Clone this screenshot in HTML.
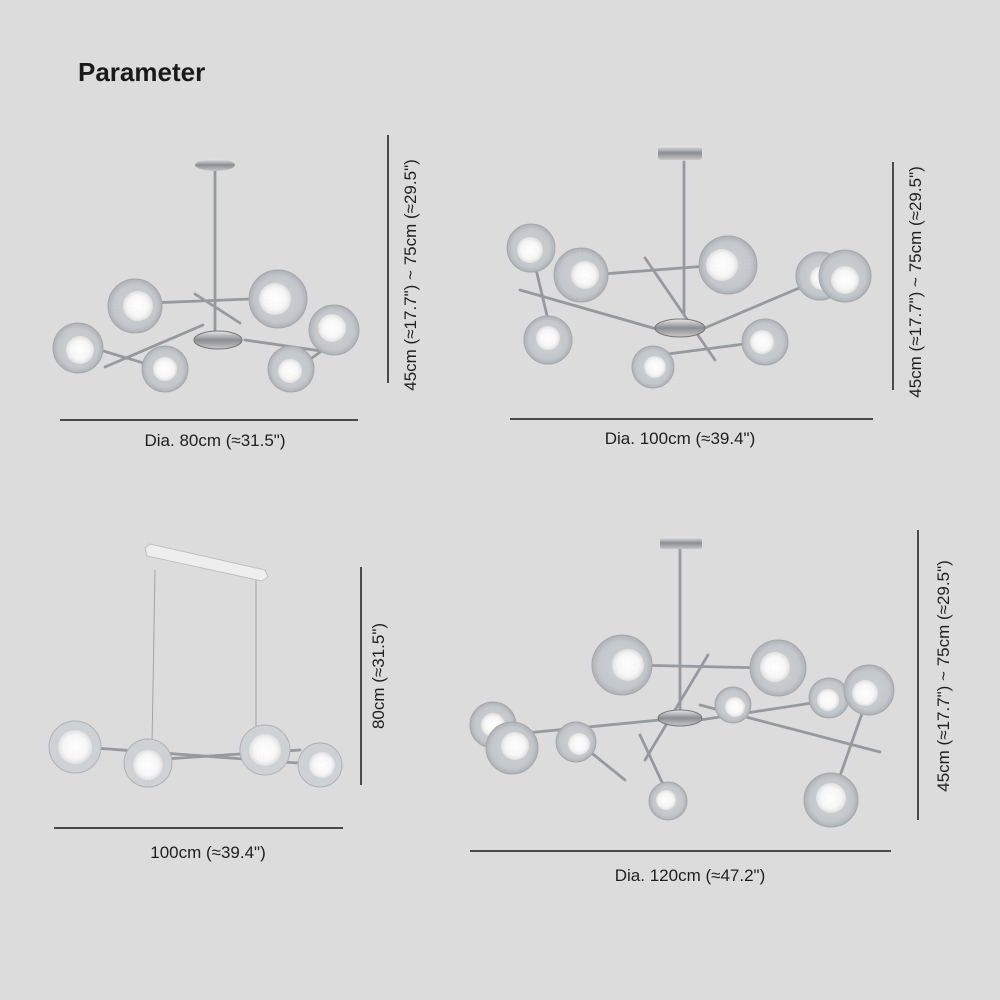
<!DOCTYPE html>
<html><head><meta charset="utf-8"><style>
html,body{margin:0;padding:0;background:#dcdcdc;}
svg{display:block;font-family:"Liberation Sans",sans-serif;}
</style></head><body>
<svg width="1000" height="1000" viewBox="0 0 1000 1000" xmlns="http://www.w3.org/2000/svg">
<defs>
<radialGradient id="gl" cx="50%" cy="50%" r="50%">
<stop offset="0" stop-color="#d2d4d7"/><stop offset="0.8" stop-color="#c3c6ca"/><stop offset="1" stop-color="#aeb1b6"/>
</radialGradient>
<radialGradient id="bulb" cx="50%" cy="50%" r="50%">
<stop offset="0" stop-color="#ffffff"/><stop offset="0.7" stop-color="#f6f6f6"/><stop offset="1" stop-color="#e0e0e0"/>
</radialGradient>
<linearGradient id="chrome" x1="0" y1="0" x2="0" y2="1">
<stop offset="0" stop-color="#e8e8e8"/><stop offset="0.5" stop-color="#8a8d92"/><stop offset="1" stop-color="#c8c8c8"/>
</linearGradient>
</defs>
<rect width="1000" height="1000" fill="#dcdcdc"/>
<text x="78" y="81" font-size="26" font-weight="bold" fill="#1a1a1a">Parameter</text>

<g stroke="#96999e" stroke-width="2.8" fill="none" stroke-linecap="round">
<line x1="215" y1="170" x2="215" y2="330"/>
<line x1="150" y1="303" x2="250" y2="299"/>
<line x1="195" y1="294" x2="240" y2="323"/>
<line x1="105" y1="367" x2="203" y2="325"/>
<line x1="100" y1="350" x2="160" y2="368"/>
<line x1="245" y1="340" x2="335" y2="353"/>
<line x1="295" y1="370" x2="330" y2="345"/>
<line x1="684" y1="162" x2="684" y2="315"/>
<line x1="590" y1="275" x2="720" y2="265"/>
<line x1="645" y1="258" x2="715" y2="360"/>
<line x1="520" y1="290" x2="660" y2="330"/>
<line x1="535" y1="265" x2="548" y2="320"/>
<line x1="700" y1="330" x2="830" y2="275"/>
<line x1="660" y1="355" x2="760" y2="342"/>
<line x1="680" y1="550" x2="680" y2="710"/>
<line x1="630" y1="665" x2="770" y2="668"/>
<line x1="708" y1="655" x2="645" y2="760"/>
<line x1="475" y1="738" x2="680" y2="718"/>
<line x1="578" y1="742" x2="625" y2="780"/>
<line x1="700" y1="720" x2="865" y2="695"/>
<line x1="700" y1="705" x2="880" y2="752"/>
<line x1="865" y1="705" x2="835" y2="790"/>
<line x1="640" y1="735" x2="668" y2="795"/>
</g>
<g stroke="#a0a3a8" stroke-width="1" fill="none">
<line x1="155" y1="570" x2="152" y2="745"/>
<line x1="256" y1="580" x2="256" y2="735"/>
</g>
<g stroke="#96999e" stroke-width="2.8" stroke-linecap="round">
<line x1="95" y1="748" x2="325" y2="765"/>
<line x1="150" y1="760" x2="300" y2="750"/>
</g>

<ellipse cx="215" cy="165" rx="20" ry="6" fill="url(#chrome)"/>
<ellipse cx="218" cy="340" rx="24" ry="9" fill="url(#chrome)" stroke="#777" stroke-width="1"/>
<rect x="658" y="146" width="44" height="14" rx="3" fill="url(#chrome)"/>
<ellipse cx="680" cy="328" rx="25" ry="9" fill="url(#chrome)" stroke="#777" stroke-width="1"/>
<rect x="660" y="537" width="42" height="12" rx="2" fill="url(#chrome)"/>
<ellipse cx="680" cy="718" rx="22" ry="8" fill="url(#chrome)" stroke="#777" stroke-width="1"/>
<polygon points="145,548 150,544 265,570 268,577 262,581 147,556" fill="#eeeeee" stroke="#c0c0c0" stroke-width="1"/>

<g>
<g><circle cx="135" cy="306" r="27" fill="url(#gl)" stroke="#a4a8ad"/><circle cx="138" cy="306" r="15" fill="url(#bulb)"/></g>
<g><circle cx="278" cy="299" r="29" fill="url(#gl)" stroke="#a4a8ad"/><circle cx="275" cy="299" r="16" fill="url(#bulb)"/></g>
<g><circle cx="78" cy="348" r="25" fill="url(#gl)" stroke="#a4a8ad"/><circle cx="80" cy="350" r="14" fill="url(#bulb)"/></g>
<g><circle cx="165" cy="369" r="23" fill="url(#gl)" stroke="#a4a8ad"/><circle cx="165" cy="369" r="12" fill="url(#bulb)"/></g>
<g><circle cx="291" cy="369" r="23" fill="url(#gl)" stroke="#a4a8ad"/><circle cx="290" cy="371" r="12" fill="url(#bulb)"/></g>
<g><circle cx="334" cy="330" r="25" fill="url(#gl)" stroke="#a4a8ad"/><circle cx="332" cy="328" r="14" fill="url(#bulb)"/></g>
<g><circle cx="531" cy="248" r="24" fill="url(#gl)" stroke="#a4a8ad"/><circle cx="530" cy="250" r="13" fill="url(#bulb)"/></g>
<g><circle cx="581" cy="275" r="27" fill="url(#gl)" stroke="#a4a8ad"/><circle cx="585" cy="275" r="14" fill="url(#bulb)"/></g>
<g><circle cx="728" cy="265" r="29" fill="url(#gl)" stroke="#a4a8ad"/><circle cx="722" cy="265" r="16" fill="url(#bulb)"/></g>
<g><circle cx="820" cy="276" r="24" fill="url(#gl)" stroke="#a4a8ad"/><circle cx="822" cy="278" r="12" fill="url(#bulb)"/></g>
<g><circle cx="845" cy="276" r="26" fill="url(#gl)" stroke="#a4a8ad"/><circle cx="845" cy="280" r="14" fill="url(#bulb)"/></g>
<g><circle cx="548" cy="340" r="24" fill="url(#gl)" stroke="#a4a8ad"/><circle cx="548" cy="338" r="12" fill="url(#bulb)"/></g>
<g><circle cx="653" cy="367" r="21" fill="url(#gl)" stroke="#a4a8ad"/><circle cx="655" cy="367" r="11" fill="url(#bulb)"/></g>
<g><circle cx="765" cy="342" r="23" fill="url(#gl)" stroke="#a4a8ad"/><circle cx="762" cy="342" r="12" fill="url(#bulb)"/></g>
<g><circle cx="75" cy="747" r="26" fill="#cfd2d5" stroke="#aeb1b5"/><circle cx="75" cy="747" r="17" fill="url(#bulb)"/></g>
<g><circle cx="148" cy="763" r="24" fill="#cfd2d5" stroke="#aeb1b5"/><circle cx="148" cy="765" r="15" fill="url(#bulb)"/></g>
<g><circle cx="265" cy="750" r="25" fill="#cfd2d5" stroke="#aeb1b5"/><circle cx="265" cy="750" r="16" fill="url(#bulb)"/></g>
<g><circle cx="320" cy="765" r="22" fill="#cfd2d5" stroke="#aeb1b5"/><circle cx="322" cy="765" r="13" fill="url(#bulb)"/></g>
<g><circle cx="622" cy="665" r="30" fill="url(#gl)" stroke="#a4a8ad"/><circle cx="628" cy="665" r="16" fill="url(#bulb)"/></g>
<g><circle cx="778" cy="668" r="28" fill="url(#gl)" stroke="#a4a8ad"/><circle cx="775" cy="667" r="15" fill="url(#bulb)"/></g>
<g><circle cx="733" cy="705" r="18" fill="url(#gl)" stroke="#a4a8ad"/><circle cx="735" cy="707" r="10" fill="url(#bulb)"/></g>
<g><circle cx="829" cy="698" r="20" fill="url(#gl)" stroke="#a4a8ad"/><circle cx="828" cy="700" r="11" fill="url(#bulb)"/></g>
<g><circle cx="869" cy="690" r="25" fill="url(#gl)" stroke="#a4a8ad"/><circle cx="865" cy="693" r="13" fill="url(#bulb)"/></g>
<g><circle cx="493" cy="725" r="23" fill="url(#gl)" stroke="#a4a8ad"/><circle cx="493" cy="725" r="12" fill="url(#bulb)"/></g>
<g><circle cx="512" cy="748" r="26" fill="url(#gl)" stroke="#a4a8ad"/><circle cx="515" cy="746" r="14" fill="url(#bulb)"/></g>
<g><circle cx="576" cy="742" r="20" fill="url(#gl)" stroke="#a4a8ad"/><circle cx="579" cy="744" r="11" fill="url(#bulb)"/></g>
<g><circle cx="668" cy="801" r="19" fill="url(#gl)" stroke="#a4a8ad"/><circle cx="666" cy="800" r="10" fill="url(#bulb)"/></g>
<g><circle cx="831" cy="800" r="27" fill="url(#gl)" stroke="#a4a8ad"/><circle cx="831" cy="798" r="15" fill="url(#bulb)"/></g>
</g>

<g stroke="#4a4a4a" stroke-width="2">
<line x1="60" y1="420" x2="358" y2="420"/>
<line x1="388" y1="135" x2="388" y2="383"/>
<line x1="510" y1="419" x2="873" y2="419"/>
<line x1="893" y1="162" x2="893" y2="390"/>
<line x1="54" y1="828" x2="343" y2="828"/>
<line x1="361" y1="567" x2="361" y2="785"/>
<line x1="470" y1="851" x2="891" y2="851"/>
<line x1="918" y1="530" x2="918" y2="820"/>
</g>
<g font-size="17" fill="#1f1f1f" text-anchor="middle">
<text x="215" y="446">Dia. 80cm (≈31.5")</text>
<text x="680" y="444">Dia. 100cm (≈39.4")</text>
<text x="208" y="858">100cm (≈39.4")</text>
<text x="690" y="881">Dia. 120cm (≈47.2")</text>
<text transform="translate(416,275) rotate(-90)">45cm (≈17.7") ~ 75cm (≈29.5")</text>
<text transform="translate(921,282) rotate(-90)">45cm (≈17.7") ~ 75cm (≈29.5")</text>
<text transform="translate(384,676) rotate(-90)">80cm (≈31.5")</text>
<text transform="translate(949,676) rotate(-90)">45cm (≈17.7") ~ 75cm (≈29.5")</text>
</g>
</svg>
</body></html>
